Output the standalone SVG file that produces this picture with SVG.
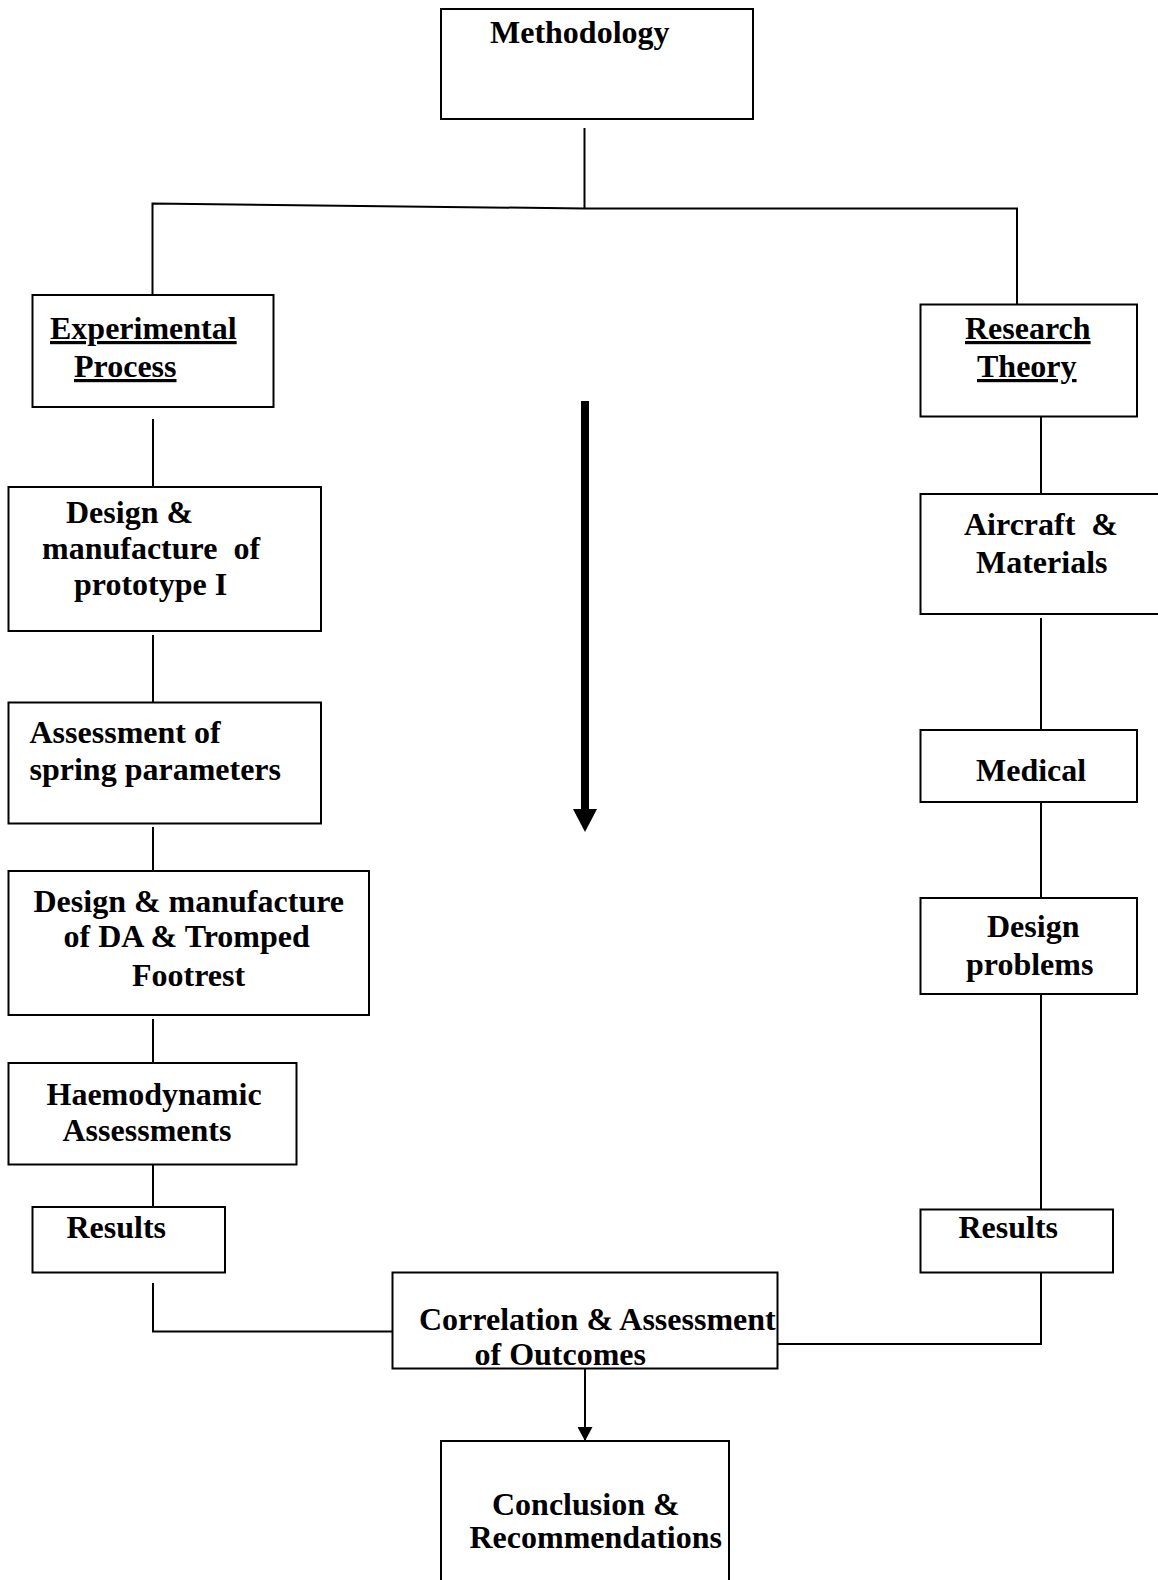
<svg xmlns="http://www.w3.org/2000/svg" width="1158" height="1580" viewBox="0 0 1158 1580">
<style>
  .box { fill: #ffffff; stroke: #000000; stroke-width: 2; }
  .ln { fill: none; stroke: #000000; stroke-width: 2; }
  .t { font-family: "Liberation Serif", "Times New Roman", serif; font-weight: bold; font-size: 32px; fill: #000000; white-space: pre; }
  .u { text-decoration: underline; }
</style>
<defs>
  <marker id="ah" viewBox="0 0 14 15" refX="14" refY="7.5" markerWidth="14" markerHeight="15" markerUnits="userSpaceOnUse" orient="auto">
    <path d="M0,0 L14,7.5 L0,15 Z" fill="#000000"/>
  </marker>
</defs>
<rect width="1158" height="1580" fill="#ffffff"/>

<g id="connectors">
  <line class="ln" x1="584.5" y1="128" x2="584.5" y2="208.5"/>
  <polyline class="ln" points="152.5,300 152.5,203.5 584.5,208.5 1017,208.5 1017,304.5"/>
  <line class="ln" x1="153" y1="419" x2="153" y2="490"/>
  <line class="ln" x1="153" y1="635" x2="153" y2="702"/>
  <line class="ln" x1="153" y1="827" x2="153" y2="876"/>
  <line class="ln" x1="153" y1="1019" x2="153" y2="1068"/>
  <line class="ln" x1="153" y1="1164" x2="153" y2="1211"/>
  <polyline class="ln" points="153,1283 153,1331.5 392.5,1331.5"/>
  <line class="ln" x1="1041" y1="416.5" x2="1041" y2="494"/>
  <line class="ln" x1="1041" y1="618" x2="1041" y2="730"/>
  <line class="ln" x1="1041" y1="802" x2="1041" y2="898"/>
  <line class="ln" x1="1041" y1="994" x2="1041" y2="1209.5"/>
  <polyline class="ln" points="1041,1272.5 1041,1344 777.5,1344"/>
  <line class="ln" x1="585" y1="1368.5" x2="585" y2="1441" marker-end="url(#ah)"/>
  <g id="flow-arrow">
    <line x1="585" y1="401" x2="585" y2="811" stroke="#000000" stroke-width="8"/>
    <polygon points="573,809 597,809 585,832" fill="#000000"/>
  </g>
</g>

<g id="methodology">
  <rect class="box" x="441" y="9" width="312" height="110"/>
  <text class="t" x="490" y="43">Methodology</text>
</g>

<g id="experimental-process">
  <rect class="box" x="32.5" y="295" width="241" height="112"/>
  <text class="t u" x="50" y="339">Experimental</text>
  <text class="t u" x="74" y="377">Process</text>
</g>

<g id="research-theory">
  <rect class="box" x="920.5" y="304.5" width="216.5" height="112"/>
  <text class="t u" x="965" y="339">Research</text>
  <text class="t u" x="977" y="377">Theory</text>
</g>

<g id="design-prototype">
  <rect class="box" x="8.5" y="487" width="312.5" height="144"/>
  <text class="t" x="66" y="523">Design &amp;</text>
  <text class="t" x="42" y="559">manufacture  of</text>
  <text class="t" x="74" y="595">prototype I</text>
</g>

<g id="aircraft-materials">
  <rect class="box" x="920.5" y="494" width="260" height="120"/>
  <text class="t" x="964" y="535">Aircraft  &amp;</text>
  <text class="t" x="976" y="573">Materials</text>
</g>

<g id="assessment-spring">
  <rect class="box" x="8.5" y="702.5" width="312.5" height="121"/>
  <text class="t" x="29.5" y="743">Assessment of</text>
  <text class="t" x="29.5" y="780">spring parameters</text>
</g>

<g id="medical">
  <rect class="box" x="920.5" y="730" width="216.5" height="72"/>
  <text class="t" x="976" y="781">Medical</text>
</g>

<g id="design-da-footrest">
  <rect class="box" x="8.5" y="871" width="360.5" height="144"/>
  <text class="t" x="33.5" y="912">Design &amp; manufacture</text>
  <text class="t" x="63.5" y="947">of DA &amp; Tromped</text>
  <text class="t" x="132" y="986">Footrest</text>
</g>

<g id="design-problems">
  <rect class="box" x="920.5" y="898" width="216.5" height="96"/>
  <text class="t" x="987" y="937">Design</text>
  <text class="t" x="966" y="975">problems</text>
</g>

<g id="haemodynamic">
  <rect class="box" x="8.5" y="1063" width="288" height="101.5"/>
  <text class="t" x="46.5" y="1105">Haemodynamic</text>
  <text class="t" x="62.5" y="1141">Assessments</text>
</g>

<g id="results-left">
  <rect class="box" x="32.5" y="1207" width="192.5" height="65.5"/>
  <text class="t" x="66.5" y="1238">Results</text>
</g>

<g id="results-right">
  <rect class="box" x="920.5" y="1209.5" width="192.5" height="63"/>
  <text class="t" x="958.5" y="1238">Results</text>
</g>

<g id="correlation">
  <rect class="box" x="392.5" y="1272.5" width="385" height="96"/>
  <text class="t" x="419" y="1330">Correlation &amp; Assessment</text>
  <text class="t" x="474.5" y="1365">of Outcomes</text>
</g>

<g id="conclusion">
  <rect class="box" x="441" y="1441" width="288" height="160"/>
  <text class="t" x="492" y="1515">Conclusion &amp;</text>
  <text class="t" x="469.5" y="1548">Recommendations</text>
</g>
</svg>
